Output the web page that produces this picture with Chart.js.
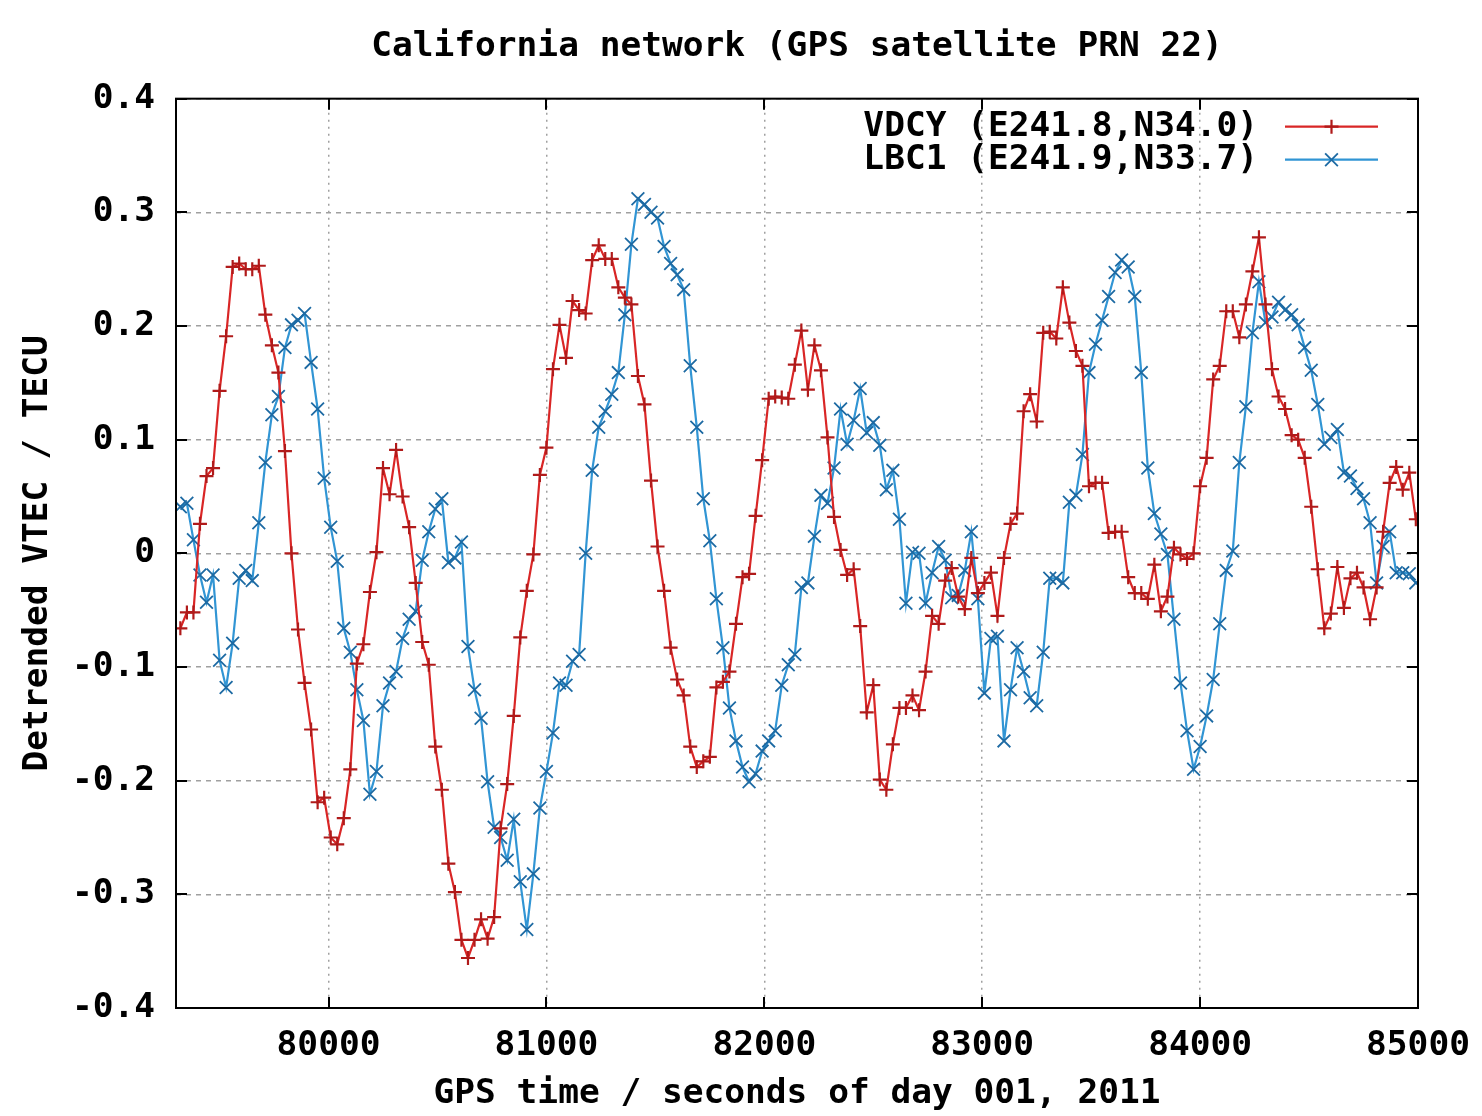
<!DOCTYPE html>
<html>
<head>
<meta charset="utf-8">
<title>California network (GPS satellite PRN 22)</title>
<script src="https://cdn.jsdelivr.net/npm/chart.js@4.4.1/dist/chart.umd.min.js"></script>
<style>
  html, body { margin: 0; padding: 0; background: #ffffff; }
  canvas { display: block; }
</style>
</head>
<body>
<canvas id="tec-chart" width="1482" height="1116"></canvas>
<script>
/* Detrended VTEC, two GPS stations, 30 s samples */

// sample epochs (GPS seconds of day 001, 2011)
const times = [
  79320, 79350, 79380, 79410, 79440, 79470, 79500, 79530, 79560, 79590,
  79620, 79650, 79680, 79710, 79740, 79770, 79800, 79830, 79860, 79890,
  79920, 79950, 79980, 80010, 80040, 80070, 80100, 80130, 80160, 80190,
  80220, 80250, 80280, 80310, 80340, 80370, 80400, 80430, 80460, 80490,
  80520, 80550, 80580, 80610, 80640, 80670, 80700, 80730, 80760, 80790,
  80820, 80850, 80880, 80910, 80940, 80970, 81000, 81030, 81060, 81090,
  81120, 81150, 81180, 81210, 81240, 81270, 81300, 81330, 81360, 81390,
  81420, 81450, 81480, 81510, 81540, 81570, 81600, 81630, 81660, 81690,
  81720, 81750, 81780, 81810, 81840, 81870, 81900, 81930, 81960, 81990,
  82020, 82050, 82080, 82110, 82140, 82170, 82200, 82230, 82260, 82290,
  82320, 82350, 82380, 82410, 82440, 82470, 82500, 82530, 82560, 82590,
  82620, 82650, 82680, 82710, 82740, 82770, 82800, 82830, 82860, 82890,
  82920, 82950, 82980, 83010, 83040, 83070, 83100, 83130, 83160, 83190,
  83220, 83250, 83280, 83310, 83340, 83370, 83400, 83430, 83460, 83490,
  83520, 83550, 83580, 83610, 83640, 83670, 83700, 83730, 83760, 83790,
  83820, 83850, 83880, 83910, 83940, 83970, 84000, 84030, 84060, 84090,
  84120, 84150, 84180, 84210, 84240, 84270, 84300, 84330, 84360, 84390,
  84420, 84450, 84480, 84510, 84540, 84570, 84600, 84630, 84660, 84690,
  84720, 84750, 84780, 84810, 84840, 84870, 84900, 84930, 84960, 84990
];

// VDCY (E241.8,N34.0) -- TECU
const vdcy = [
  -0.066, -0.052, -0.052, 0.026, 0.068, 0.075, 0.143, 0.191, 0.252, 0.255,
  0.250, 0.250, 0.253, 0.210, 0.183, 0.159, 0.090, 0.000, -0.067, -0.114,
  -0.155, -0.219, -0.215, -0.250, -0.256, -0.233, -0.190, -0.097, -0.080, -0.034,
  0.001, 0.075, 0.052, 0.091, 0.050, 0.023, -0.026, -0.078, -0.098, -0.170,
  -0.208, -0.273, -0.298, -0.340, -0.356, -0.340, -0.322, -0.339, -0.320, -0.242,
  -0.203, -0.143, -0.074, -0.033, -0.001, 0.069, 0.093, 0.162, 0.201, 0.172,
  0.222, 0.214, 0.211, 0.258, 0.271, 0.259, 0.259, 0.234, 0.225, 0.219,
  0.156, 0.131, 0.064, 0.006, -0.033, -0.083, -0.111, -0.125, -0.170, -0.188,
  -0.183, -0.179, -0.118, -0.113, -0.104, -0.062, -0.021, -0.018, 0.033, 0.082,
  0.136, 0.138, 0.137, 0.136, 0.166, 0.196, 0.144, 0.183, 0.161, 0.102,
  0.032, 0.003, -0.019, -0.014, -0.064, -0.140, -0.116, -0.199, -0.208, -0.168,
  -0.136, -0.136, -0.125, -0.138, -0.104, -0.055, -0.062, -0.024, -0.013, -0.038,
  -0.049, -0.004, -0.035, -0.026, -0.017, -0.055, -0.004, 0.026, 0.035, 0.125,
  0.140, 0.116, 0.194, 0.195, 0.189, 0.234, 0.203, 0.178, 0.165, 0.059,
  0.062, 0.062, 0.018, 0.019, 0.019, -0.021, -0.035, -0.035, -0.040, -0.010,
  -0.051, -0.038, 0.005, -0.001, -0.005, 0.000, 0.059, 0.084, 0.153, 0.165,
  0.213, 0.213, 0.190, 0.219, 0.248, 0.278, 0.219, 0.162, 0.138, 0.127,
  0.104, 0.100, 0.084, 0.041, -0.014, -0.066, -0.053, -0.012, -0.048, -0.022,
  -0.017, -0.030, -0.058, -0.030, 0.019, 0.062, 0.076, 0.056, 0.071, 0.030
];

// LBC1 (E241.9,N33.7) -- TECU
const lbc1 = [
  0.041, 0.044, 0.012, -0.019, -0.043, -0.019, -0.094, -0.118, -0.079, -0.022,
  -0.015, -0.024, 0.027, 0.080, 0.122, 0.138, 0.181, 0.201, 0.205, 0.211,
  0.168, 0.127, 0.066, 0.023, -0.007, -0.066, -0.087, -0.120, -0.147, -0.212,
  -0.192, -0.134, -0.114, -0.104, -0.075, -0.058, -0.051, -0.006, 0.019, 0.039,
  0.048, -0.008, -0.004, 0.010, -0.082, -0.120, -0.145, -0.201, -0.241, -0.250,
  -0.270, -0.234, -0.289, -0.331, -0.282, -0.224, -0.192, -0.158, -0.114, -0.116,
  -0.095, -0.089, 0.000, 0.073, 0.111, 0.125, 0.140, 0.159, 0.210, 0.272,
  0.312, 0.307, 0.300, 0.295, 0.270, 0.255, 0.245, 0.232, 0.165, 0.111,
  0.048, 0.011, -0.040, -0.083, -0.136, -0.165, -0.188, -0.201, -0.194, -0.174,
  -0.165, -0.156, -0.116, -0.098, -0.089, -0.030, -0.026, 0.015, 0.051, 0.044,
  0.075, 0.127, 0.096, 0.117, 0.145, 0.106, 0.115, 0.095, 0.056, 0.073,
  0.030, -0.044, 0.001, 0.000, -0.044, -0.017, 0.006, -0.006, -0.039, -0.037,
  -0.015, 0.019, -0.040, -0.123, -0.075, -0.073, -0.165, -0.120, -0.083, -0.104,
  -0.127, -0.134, -0.087, -0.022, -0.022, -0.026, 0.045, 0.051, 0.087, 0.159,
  0.184, 0.205, 0.226, 0.247, 0.258, 0.252, 0.226, 0.159, 0.075, 0.035,
  0.017, -0.001, -0.058, -0.114, -0.156, -0.190, -0.170, -0.143, -0.111, -0.062,
  -0.015, 0.002, 0.080, 0.129, 0.194, 0.239, 0.203, 0.208, 0.221, 0.214,
  0.210, 0.201, 0.181, 0.161, 0.131, 0.096, 0.102, 0.109, 0.071, 0.068,
  0.057, 0.048, 0.027, -0.026, 0.006, 0.019, -0.017, -0.017, -0.018, -0.026
];

// axis ticks
const xTicks = [80000, 81000, 82000, 83000, 84000, 85000];
const yTicks = [-0.4, -0.3, -0.2, -0.1, 0, 0.1, 0.2, 0.3, 0.4];
const X_MIN = 79300;
const X_MAX = 85000;

const MONO = "'DejaVu Sans Mono', 'Liberation Mono', monospace";
const FONT_SIZE = 34.5;
const FONT_WEIGHT = 'bold';
const RED = '#d92626';
const RED_PT = '#b01a1a';
const BLUE = '#3195d4';
const BLUE_PT = '#1d6aa3';
const GRID = '#a0a0a0';
const TICK_LEN = 11;

Chart.defaults.color = '#000000';
Chart.defaults.font.family = MONO;
Chart.defaults.font.size = FONT_SIZE;
Chart.defaults.font.weight = FONT_WEIGHT;

// gnuplot style box + inward tick marks
const framePlugin = {
  id: 'gnuplotFrame',
  afterDatasetsDraw(chart) {
    const { ctx, chartArea: a, scales } = chart;
    const x = scales.x, y = scales.y;
    ctx.save();
    ctx.strokeStyle = '#000000';
    ctx.lineWidth = 2;
    ctx.beginPath();
    yTicks.forEach(v => {
      const py = Math.round(y.getPixelForValue(v));
      ctx.moveTo(a.left, py); ctx.lineTo(a.left + TICK_LEN, py);
      ctx.moveTo(a.right, py); ctx.lineTo(a.right - TICK_LEN, py);
    });
    xTicks.forEach(v => {
      const px = Math.round(x.getPixelForValue(v));
      ctx.moveTo(px, a.bottom); ctx.lineTo(px, a.bottom - TICK_LEN);
      ctx.moveTo(px, a.top); ctx.lineTo(px, a.top + TICK_LEN);
    });
    ctx.stroke();
    ctx.strokeRect(a.left, a.top, a.right - a.left, a.bottom - a.top);
    ctx.restore();
  }
};

// key in the top right corner: text, then line sample with the marker
const keyPlugin = {
  id: 'insideKey',
  afterDatasetsDraw(chart) {
    const { ctx, chartArea: a } = chart;
    ctx.save();
    ctx.font = FONT_WEIGHT + ' ' + FONT_SIZE + 'px ' + MONO;
    ctx.textAlign = 'right';
    ctx.textBaseline = 'middle';
    chart.data.datasets.forEach((ds, i) => {
      const yy = a.top + 28 + i * 33;
      const x0 = a.right - 133, x1 = a.right - 40;
      ctx.fillStyle = '#000000';
      ctx.fillText(ds.label, a.right - 160, yy);
      ctx.strokeStyle = ds.borderColor;
      ctx.lineWidth = ds.borderWidth;
      ctx.beginPath();
      ctx.moveTo(x0, yy); ctx.lineTo(x1, yy);
      ctx.stroke();
      if (Chart.helpers && Chart.helpers.drawPoint) {
        ctx.strokeStyle = ds.pointBorderColor;
        ctx.lineWidth = ds.pointBorderWidth;
        Chart.helpers.drawPoint(ctx, {
          pointStyle: ds.pointStyle,
          radius: ds.pointRadius,
          borderWidth: ds.pointBorderWidth,
          rotation: 0
        }, (x0 + x1) / 2, yy);
      }
    });
    ctx.restore();
  }
};

const ctx = document.getElementById('tec-chart').getContext('2d');

new Chart(ctx, {
  type: 'line',
  data: {
    datasets: [
      {
        label: 'VDCY (E241.8,N34.0)',
        data: times.map((t, i) => ({ x: t, y: vdcy[i] })),
        borderColor: RED,
        borderWidth: 2.2,
        pointStyle: 'cross',
        pointRadius: 7,
        pointBorderColor: RED_PT,
        pointBorderWidth: 2.2,
        pointBackgroundColor: RED_PT,
        tension: 0
      },
      {
        label: 'LBC1 (E241.9,N33.7)',
        data: times.map((t, i) => ({ x: t, y: lbc1[i] })),
        borderColor: BLUE,
        borderWidth: 2.2,
        pointStyle: 'crossRot',
        pointRadius: 9,
        pointBorderColor: BLUE_PT,
        pointBorderWidth: 1.8,
        pointBackgroundColor: BLUE_PT,
        tension: 0
      }
    ]
  },
  options: {
    responsive: false,
    animation: false,
    devicePixelRatio: 1,
    layout: { padding: { left: 0, right: 64, top: 0, bottom: 0 } },
    plugins: {
      legend: { display: false },
      tooltip: { enabled: false },
      title: {
        display: true,
        fullSize: false,
        text: 'California network (GPS satellite PRN 22)',
        color: '#000000',
        font: { family: MONO, size: FONT_SIZE, weight: FONT_WEIGHT, lineHeight: 1.15 },
        padding: { top: 27, bottom: 32 }
      }
    },
    scales: {
      x: {
        type: 'linear',
        min: X_MIN,
        max: X_MAX,
        afterBuildTicks: (s) => { s.ticks = xTicks.map(v => ({ value: v })); },
        afterFit: (s) => { s.height = 108; s.paddingLeft = 0; s.paddingRight = 0; },
        grid: { color: GRID, lineWidth: 1.5, drawTicks: false },
        border: { display: false, dash: [2, 5] },
        ticks: {
          autoSkip: false,
          maxRotation: 0,
          padding: 17,
          color: '#000000',
          callback: (v) => String(v)
        },
        title: {
          display: true,
          text: 'GPS time / seconds of day 001, 2011',
          color: '#000000',
          padding: { top: 0, bottom: 1 }
        }
      },
      y: {
        min: -0.4,
        max: 0.4,
        afterBuildTicks: (s) => { s.ticks = yTicks.map(v => ({ value: v })); },
        afterFit: (s) => { s.width = 176; s.paddingTop = 0; s.paddingBottom = 0; },
        grid: { color: GRID, lineWidth: 1.5, drawTicks: false },
        border: { display: false, dash: [5, 5] },
        ticks: {
          padding: 21,
          color: '#000000',
          callback: (v) => (v === 0 ? '0' : Number(v).toFixed(1))
        },
        title: {
          display: true,
          text: 'Detrended VTEC / TECU',
          color: '#000000',
          padding: { top: 17, bottom: 0 }
        }
      }
    }
  },
  plugins: [framePlugin, keyPlugin]
});
</script>
</body>
</html>
